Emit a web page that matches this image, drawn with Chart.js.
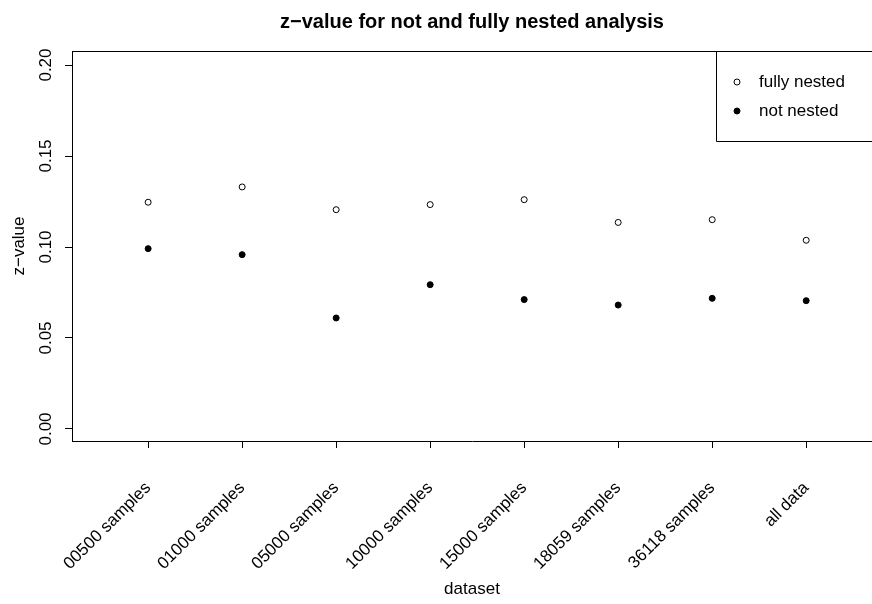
<!DOCTYPE html>
<html>
<head>
<meta charset="utf-8">
<script src="https://cdn.jsdelivr.net/npm/chart.js@4/dist/chart.umd.min.js"></script>
<style>
  html, body { margin: 0; padding: 0; background: #fff; }
  canvas { display: block; }
</style>
</head>
<body>
<canvas id="zChart" width="872" height="604"></canvas>
<script>
// --- data ---
const categories = ['00500 samples', '01000 samples', '05000 samples', '10000 samples',
                    '15000 samples', '18059 samples', '36118 samples', 'all data'];
const fullyNested = [0.1246, 0.1330, 0.1205, 0.1233, 0.1260, 0.1135, 0.1150, 0.1037];
const notNested   = [0.0991, 0.0958, 0.0610, 0.0793, 0.0711, 0.0681, 0.0718, 0.0705];
const yTicks = [0, 0.05, 0.10, 0.15, 0.20];

const FONT = "'Liberation Sans', Arial, Helvetica, sans-serif";
const TXT = 17;
Chart.defaults.font.family = FONT;
Chart.defaults.font.size = TXT;
Chart.defaults.color = '#000';

const toPoints = arr => arr.map((v, i) => ({ x: i, y: v }));

// box top line, y labels turned on their side, legend in the corner
const rStyle = {
    id: 'rStyle',
    afterDraw(chart) {
        const { ctx, chartArea: a, scales } = chart;
        ctx.save();
        ctx.strokeStyle = '#000';
        ctx.lineWidth = 1;
        ctx.beginPath();
        ctx.moveTo(a.left, a.top + 0.5);
        ctx.lineTo(a.right, a.top + 0.5);
        ctx.stroke();

        // y tick labels, parallel to the axis
        ctx.fillStyle = '#000';
        ctx.font = TXT + 'px ' + FONT;
        ctx.textAlign = 'center';
        ctx.textBaseline = 'middle';
        scales.y.ticks.forEach(t => {
            const py = scales.y.getPixelForValue(t.value);
            ctx.save();
            ctx.translate(46, py);
            ctx.rotate(-Math.PI / 2);
            ctx.fillText(t.value.toFixed(2), 0, 0);
            ctx.restore();
        });

        // legend
        const lx = a.right - 156, ly = a.top;
        ctx.beginPath();
        ctx.rect(lx + 0.5, ly + 0.5, 200, 90);
        ctx.stroke();
        ctx.textAlign = 'left';
        chart.data.datasets.forEach((ds, i) => {
            const cy = ly + 31 + i * 29;
            ctx.beginPath();
            ctx.arc(lx + 21, cy, 3, 0, Math.PI * 2);
            ctx.fillStyle = ds.pointBackgroundColor;
            ctx.fill();
            ctx.stroke();
            ctx.fillStyle = '#000';
            ctx.fillText(ds.label, lx + 43, cy);
        });
        ctx.restore();
    }
};

new Chart(document.getElementById('zChart'), {
    type: 'scatter',
    data: {
        datasets: [
            { label: 'fully nested', data: toPoints(fullyNested), pointRadius: 3, pointBorderWidth: 1,
              pointBorderColor: '#000', pointBackgroundColor: '#fff' },
            { label: 'not nested', data: toPoints(notNested), pointRadius: 3, pointBorderWidth: 1,
              pointBorderColor: '#000', pointBackgroundColor: '#000' }
        ]
    },
    options: {
        responsive: false,
        animation: false,
        devicePixelRatio: 1,
        layout: { padding: 0, autoPadding: false },
        plugins: {
            legend: { display: false },
            tooltip: { enabled: false },
            title: {
                display: true,
                fullSize: false,
                text: 'z\u2212value for not and fully nested analysis',
                font: { size: 20, weight: 'bold' },
                color: '#000',
                padding: { top: 10, bottom: 17 }
            }
        },
        scales: {
            x: {
                type: 'linear',
                min: -0.81, max: 7.70,
                afterBuildTicks: s => { s.ticks = categories.map((c, i) => ({ value: i })); },
                afterFit: s => { s.height = 163; s.paddingLeft = 0; s.paddingRight = 0; },
                ticks: {
                    callback: v => categories[v],
                    minRotation: 45, maxRotation: 45,
                    padding: 30,
                    color: '#000'
                },
                grid: { drawOnChartArea: false, drawTicks: true, tickLength: 7, color: '#000' },
                border: { display: true, color: '#000', width: 1 },
                title: { display: true, text: 'dataset', color: '#000', padding: 4 }
            },
            y: {
                min: -0.0066, max: 0.2077,
                afterBuildTicks: s => { s.ticks = yTicks.map(v => ({ value: v })); },
                afterFit: s => { s.width = 72; s.paddingTop = 0; s.paddingBottom = 0; },
                ticks: { display: false },
                grid: { drawOnChartArea: false, drawTicks: true, tickLength: 7, color: '#000' },
                border: { display: true, color: '#000', width: 1 },
                title: { display: true, text: 'z\u2212value', color: '#000', padding: 9 }
            }
        }
    },
    plugins: [rStyle]
});
</script>
</body>
</html>
